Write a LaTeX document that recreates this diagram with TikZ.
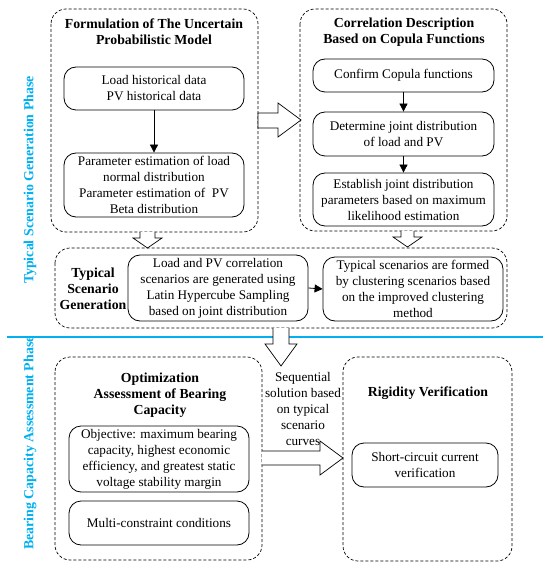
\documentclass[tikz,border=0pt]{standalone}
\usepackage{fontspec}
\setmainfont{Liberation Serif}
\usetikzlibrary{arrows.meta,calc}
\definecolor{phaseblue}{RGB}{0,176,240}
\tikzset{
  outerbox/.style={draw, dashed, dash pattern=on 3pt off 2pt, rounded corners=15pt, line width=0.7pt},
  innerbox/.style={draw, rounded corners=12pt, line width=0.8pt, align=center, inner sep=0pt, font=\fontsize{13.2}{16}\selectfont},
  title/.style={align=center, font=\fontsize{13.8}{16}\selectfont\bfseries},
  plain/.style={align=center, font=\fontsize{13.2}{16}\selectfont},
  phase/.style={rotate=90, text=phaseblue, font=\fontsize{13.9}{16}\selectfont\bfseries},
  thinarrow/.style={-{Triangle[length=8pt,width=8pt]}, line width=0.8pt},
  hollow/.style={draw, fill=white, line width=0.7pt, line join=miter},
}
\begin{document}
\begin{tikzpicture}[x=1pt,y=-1pt]
\useasboundingbox (0,0) rectangle (550,569);
% outer boxes
\draw[outerbox] (51,9) rectangle (258,232);
\draw[outerbox] (300,9) rectangle (507,231);
\draw[outerbox] (55,248) rectangle (507,328);
\draw[outerbox] (55,357) rectangle (262,560);
\draw[outerbox] (343,357) rectangle (512,561);
% titles
\node[title] (t1) at (154,32) {Formulation of The Uncertain\\Probabilistic Model};
\node[title] (t2) at (404,32) {Correlation Description\\Based on Copula Functions};
\node[title] (t3) at (93,289) {Typical\\Scenario\\Generation};
\node[title] (t4) at (160,395) {Optimization\\Assessment of Bearing\\Capacity};
\node[title] (t5) at (428,393) {Rigidity Verification};
% inner boxes
\node[innerbox, minimum width=180pt, minimum height=43pt] (a) at (154,88.5) {Load historical data\\PV historical data};
\node[innerbox, minimum width=180pt, minimum height=64pt] (b) at (154,185) {Parameter estimation of load\\normal distribution\\Parameter estimation of\ \ PV\\Beta distribution};
\node[innerbox, minimum width=181pt, minimum height=33pt] (c) at (403.5,75.5) {Confirm Copula functions};
\node[innerbox, minimum width=181pt, minimum height=44pt] (d) at (403.5,134) {Determine joint distribution\\of load and PV};
\node[innerbox, minimum width=181pt, minimum height=53pt] (e) at (403.5,199.5) {Establish joint distribution\\parameters based on maximum\\likelihood estimation};
\node[innerbox, minimum width=180pt, minimum height=66pt] (f) at (218,288) {Load and PV correlation\\scenarios are generated using\\Latin Hypercube Sampling\\based on joint distribution};
\node[innerbox, minimum width=180pt, minimum height=64pt] (g) at (413,289) {Typical scenarios are formed\\by clustering scenarios based\\on the improved clustering\\method};
\node[innerbox, minimum width=180pt, minimum height=66pt] (h) at (159,459) {Objective: maximum bearing\\capacity, highest economic\\efficiency, and greatest static\\voltage stability margin};
\node[innerbox, minimum width=180pt, minimum height=44pt] (i) at (159,523) {Multi-constraint conditions};
\node[innerbox, minimum width=146pt, minimum height=44pt] (j) at (425,465) {Short-circuit current\\verification};
% thin arrows
\draw[thinarrow] (a.south) -- (b.north);
\draw[thinarrow] (c.south) -- (d.north);
\draw[thinarrow] (d.south) -- (e.north);
\draw[thinarrow] (f.east) -- (g.west);
% hollow arrows
\draw[hollow] (258,113) -- (278,113) -- (278,103) -- (301,120) -- (278,137) -- (278,128) -- (258,128) -- cycle;
\draw[hollow] (140,232) -- (140,238) -- (133,238) -- (147.5,248) -- (162,238) -- (155,238) -- (155,232);
\draw[hollow] (401,231) -- (401,237) -- (393,237) -- (407.5,247) -- (422,237) -- (414,237) -- (414,231);
% phase line and labels
\draw[phaseblue, line width=1.5pt] (7,337) -- (543,337);
\node[phase] (p1) at (30,180) {Typical Scenario Generation Phase};
\node[phase] (p2) at (30,443) {Bearing Capacity Assessment Phase};
\draw[hollow] (273,328) -- (273,344) -- (265,344) -- (281,366) -- (297,344) -- (289,344) -- (289,328);
\draw[hollow] (262,451) -- (320,451) -- (320,441) -- (343,458) -- (320,475) -- (320,465) -- (262,465);
\node[plain] (seq) at (303,409) {Sequential\\solution based\\on typical\\scenario\\curves};
\end{tikzpicture}
\end{document}
